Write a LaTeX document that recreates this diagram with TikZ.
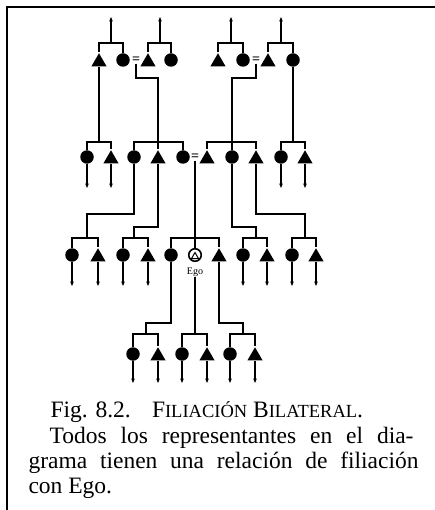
\documentclass[tikz,border=0pt]{standalone}
\usepackage{fontspec}
\setmainfont{Liberation Serif}
\usetikzlibrary{arrows.meta,shapes.geometric}
\newcommand{\fsc}[1]{{\fontsize{18.5}{18.5}\selectfont #1}}
\begin{document}
\begin{tikzpicture}[x=1pt,y=-1pt,
  line width=1.1pt,
  fem/.style={circle,fill,inner sep=0pt,minimum size=13.5pt},
  mal/.style={regular polygon,regular polygon sides=3,fill,inner sep=0pt,minimum size=17.5pt,yshift=-2pt},
  egosym/.style={circle,draw,line width=1.6pt,inner sep=0pt,minimum size=12.5pt},
  egotri/.style={regular polygon,regular polygon sides=3,draw,line width=1pt,inner sep=0pt,minimum size=8pt,yshift=-1pt},
  eqs/.style={inner sep=0pt,font=\fontsize{14}{14}\selectfont\bfseries},
  egolab/.style={inner sep=0pt,font=\fontsize{10}{10}\selectfont},
  arr/.style={-{Stealth[length=4.5pt,width=3.6pt]}},
  frame/.style={line width=2pt},
  captxt/.style={inner sep=0pt,anchor=base west,font=\fontsize{23.5}{25}\selectfont},
]
\useasboundingbox (0,0) rectangle (435,510);
\draw[frame] (7,510) -- (7,7) -- (435,7);

% ---------- generation 1 ----------
\node[mal] (m11) at (99,60) {};
\node[fem] (f12) at (123,60) {};
\node[eqs] (e1)  at (136,60) {=};
\node[mal] (m13) at (148,60) {};
\node[fem] (f14) at (171,60) {};
\node[mal] (m15) at (218,60) {};
\node[fem] (f16) at (243,60) {};
\node[eqs] (e2)  at (256,60) {=};
\node[mal] (m17) at (268,60) {};
\node[fem] (f18) at (293,60) {};

\coordinate (b1) at (0,43);
\coordinate (up1) at (111,17);
\coordinate (up2) at (160,17);
\coordinate (up3) at (231,17);
\coordinate (up4) at (281,17);
\coordinate (j1) at (0,78);

\draw (m11.north) |- (f12.north |- b1) -- (f12.north);
\draw (m13.north) |- (f14.north |- b1) -- (f14.north);
\draw (m15.north) |- (f16.north |- b1) -- (f16.north);
\draw (m17.north) |- (f18.north |- b1) -- (f18.north);
\draw[arr] (up1 |- b1) -- (up1);
\draw[arr] (up2 |- b1) -- (up2);
\draw[arr] (up3 |- b1) -- (up3);
\draw[arr] (up4 |- b1) -- (up4);

% ---------- generation 2 ----------
\node[fem] (f21) at (87,157) {};
\node[mal] (m22) at (111,157) {};
\node[fem] (f23) at (134,157) {};
\node[mal] (m24) at (158,157) {};
\node[fem] (f25) at (183,157) {};
\node[eqs] (e3)  at (195,157) {=};
\node[mal] (m26) at (207,157) {};
\node[fem] (f27) at (232,157) {};
\node[mal] (m28) at (256,157) {};
\node[fem] (f29) at (281,157) {};
\node[mal] (m2a) at (305,157) {};

\coordinate (b2) at (0,142);
\coordinate (d2) at (0,188);

% links gen 1 -> gen 2
\draw (m11.south) -- (m11.south |- b2);
\draw (e1.south) |- (m24.north |- j1) -- (m24.north |- b2);
\draw (e2.south) |- (f27.north |- j1) -- (f27.north |- b2);
\draw (f18.south) -- (f18.south |- b2);

\draw (f21.north) |- (m22.north |- b2) -- (m22.north);
\draw (f23.north) |- (f25.north |- b2) -- (f25.north);
\draw (m24.north) -- (m24.north |- b2);
\draw (m26.north) |- (m28.north |- b2) -- (m28.north);
\draw (f27.north) -- (f27.north |- b2);
\draw (f29.north) |- (m2a.north |- b2) -- (m2a.north);

\draw[arr] (f21.south) -- (f21.south |- d2);
\draw[arr] (m22.south) -- (m22.south |- d2);
\draw[arr] (f29.south) -- (f29.south |- d2);
\draw[arr] (m2a.south) -- (m2a.south |- d2);

% ---------- generation 3 ----------
\node[fem] (f31) at (72,255) {};
\node[mal] (m32) at (98,255) {};
\node[fem] (f33) at (123,255) {};
\node[mal] (m34) at (148,255) {};
\node[fem] (f35) at (171,255) {};
\node[egosym] (ego) at (195,255) {};
\node[egotri] (egot) at (195,255.5) {};
\node[mal] (m37) at (219,255) {};
\node[fem] (f38) at (243,255) {};
\node[mal] (m39) at (267,255) {};
\node[fem] (f3a) at (292,255) {};
\node[mal] (m3b) at (316,255) {};
\node[egolab] (egol) at (195,272) {Ego};

\coordinate (j2a) at (0,214);
\coordinate (j2b) at (0,227);
\coordinate (b3) at (0,238);
\coordinate (d3) at (0,286);
\coordinate (t31) at (87,238);
\coordinate (t33) at (134,238);
\coordinate (t35) at (195,238);
\coordinate (t38) at (256,238);
\coordinate (t3a) at (305,238);

% links gen 2 -> gen 3
\draw (f23.south) |- (t31 |- j2a) -- (t31);
\draw (m24.south) |- (t33 |- j2b) -- (t33);
\draw (e3.south) -- (t35);
\draw (f27.south) |- (t38 |- j2b) -- (t38);
\draw (m28.south) |- (t3a |- j2a) -- (t3a);

\draw (f31.north) |- (m32.north |- b3) -- (m32.north);
\draw (f33.north) |- (m34.north |- b3) -- (m34.north);
\draw (f35.north) |- (m37.north |- b3) -- (m37.north);
\draw (ego.north) -- (ego.north |- b3);
\draw (f38.north) |- (m39.north |- b3) -- (m39.north);
\draw (f3a.north) |- (m3b.north |- b3) -- (m3b.north);

\draw[arr] (f31.south) -- (f31.south |- d3);
\draw[arr] (m32.south) -- (m32.south |- d3);
\draw[arr] (f33.south) -- (f33.south |- d3);
\draw[arr] (m34.south) -- (m34.south |- d3);
\draw[arr] (f38.south) -- (f38.south |- d3);
\draw[arr] (m39.south) -- (m39.south |- d3);
\draw[arr] (f3a.south) -- (f3a.south |- d3);
\draw[arr] (m3b.south) -- (m3b.south |- d3);

% ---------- generation 4 ----------
\node[fem] (f41) at (133,354) {};
\node[mal] (m42) at (158,354) {};
\node[fem] (f43) at (182,354) {};
\node[mal] (m44) at (207,354) {};
\node[fem] (f45) at (230,354) {};
\node[mal] (m46) at (255,354) {};

\coordinate (j3) at (0,323);
\coordinate (b4) at (0,334);
\coordinate (d4) at (0,383);
\coordinate (t41) at (146,334);
\coordinate (t43) at (195,334);
\coordinate (t45) at (243,334);

\draw (f35.south) |- (t41 |- j3) -- (t41);
\draw (egol.south) -- (t43);
\draw (m37.south) |- (t45 |- j3) -- (t45);

\draw (f41.north) |- (m42.north |- b4) -- (m42.north);
\draw (f43.north) |- (m44.north |- b4) -- (m44.north);
\draw (f45.north) |- (m46.north |- b4) -- (m46.north);

\draw[arr] (f41.south) -- (f41.south |- d4);
\draw[arr] (m42.south) -- (m42.south |- d4);
\draw[arr] (f43.south) -- (f43.south |- d4);
\draw[arr] (m44.south) -- (m44.south |- d4);
\draw[arr] (f45.south) -- (f45.south |- d4);
\draw[arr] (m46.south) -- (m46.south |- d4);

% ---------- caption ----------
\node[captxt] (c1) at (50,417) {Fig. 8.2.\hspace{0.9em}F\fsc{ILIACIÓN} B\fsc{ILATERAL}.};
\node[captxt] (c2) at (49,443) {\makebox[364pt][s]{Todos los representantes en el dia-}};
\node[captxt] (c3) at (28,468) {\makebox[390pt][s]{grama tienen una relación de filiación}};
\node[captxt] (c4) at (28,493) {con Ego.};
\end{tikzpicture}
\end{document}
